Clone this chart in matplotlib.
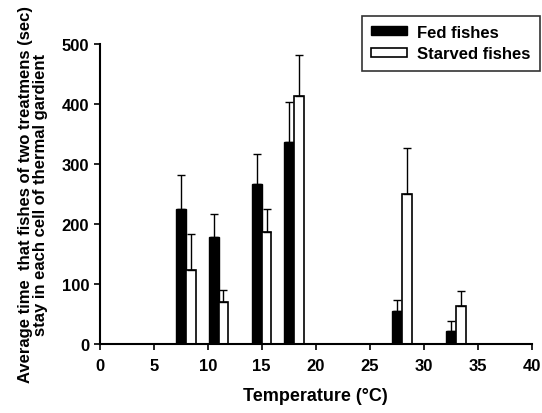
import matplotlib.pyplot as plt
import numpy as np

plt.rcParams['font.family'] = 'Liberation Sans'
plt.rcParams['font.weight'] = 'bold'

temps = [8, 11, 15, 18, 28, 33]
fed = [225, 178, 266, 337, 54, 21]
fed_err = [57, 38, 51, 67, 20, 17]
starved = [123, 70, 186, 413, 250, 63]
starved_err = [60, 20, 39, 69, 76, 25]

fig = plt.figure(figsize=(5.42, 4.14), dpi=100)
ax = fig.add_axes([0.184, 0.167, 0.797, 0.724])

w = 0.9
x = np.array(temps)
ax.bar(x - w / 2, fed, w, color='black', edgecolor='black', linewidth=1, label='Fed fishes')
ax.bar(x + w / 2, starved, w, color='white', edgecolor='black', linewidth=1.2, label='Starved fishes')
ax.errorbar(x - w / 2, fed, yerr=[np.zeros(len(fed)), fed_err], fmt='none',
            ecolor='black', elinewidth=1, capsize=3, capthick=1)
ax.errorbar(x + w / 2, starved, yerr=[np.zeros(len(starved)), starved_err], fmt='none',
            ecolor='black', elinewidth=1, capsize=3, capthick=1)

ax.set_xlim(0, 40)
ax.set_ylim(0, 500)
ax.set_xticks(range(0, 41, 5))
ax.set_yticks(range(0, 501, 100))
ax.spines['top'].set_visible(False)
ax.spines['right'].set_visible(False)
ax.spines['left'].set_linewidth(1.5)
ax.spines['bottom'].set_linewidth(1.5)
ax.tick_params(labelsize=12, width=1.2, length=4)
ax.tick_params(axis='x', pad=6)
for lab in ax.get_xticklabels() + ax.get_yticklabels():
    lab.set_fontweight('bold')

ax.set_xlabel('Temperature (°C)', fontsize=13, fontweight='bold', labelpad=10)
ax.set_ylabel('Average time  that fishes of two treatmens (sec)\nstay in each cell of thermal gardient',
              fontsize=12, fontweight='bold', labelpad=10, linespacing=1.0)

leg = ax.legend(loc='upper right', bbox_to_anchor=(1.019, 1.095), fontsize=12, frameon=True,
                fancybox=False, edgecolor='black', handlelength=2.2, handleheight=0.45,
                borderpad=0.55, labelspacing=0.4, handletextpad=0.6, borderaxespad=0)
leg.get_frame().set_linewidth(1.2)

plt.savefig('out.png', dpi=100)
